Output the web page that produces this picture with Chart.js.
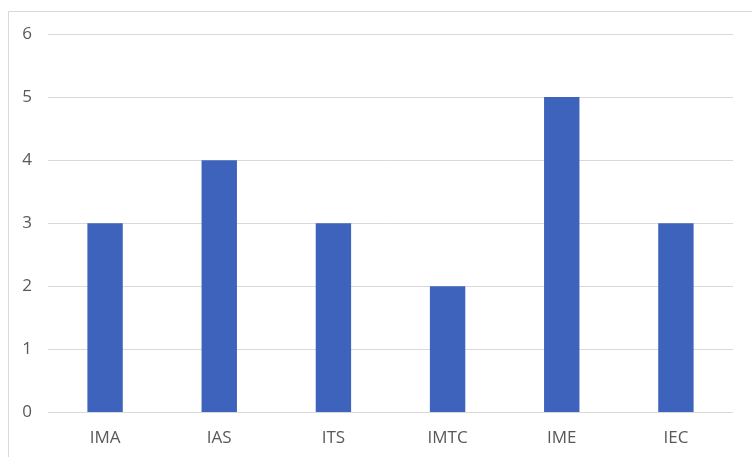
<!DOCTYPE html>
<html>
<head>
<meta charset="utf-8">
<script src="https://cdn.jsdelivr.net/npm/chart.js@4/dist/chart.umd.min.js"></script>
<style>
  html, body { margin: 0; padding: 0; background: #ffffff; }
  #wrap { width: 752px; height: 457px; position: relative; }
</style>
</head>
<body>
<div id="wrap"><canvas id="c"></canvas></div>
<script>
// Institutes and their counts
const categories = ['IMA', 'IAS', 'ITS', 'IMTC', 'IME', 'IEC'];
const counts = [3, 4, 3, 2, 5, 3];
const yTicks = [0, 1, 2, 3, 4, 5, 6];

// Light frame along the left and top edges of the chart box
const frame = {
  id: 'frame',
  beforeDraw(chart) {
    const ctx = chart.ctx;
    ctx.save();
    ctx.fillStyle = '#ffffff';
    ctx.fillRect(0, 0, chart.width, chart.height);
    ctx.strokeStyle = '#d9d9d9';
    ctx.lineWidth = 1;
    ctx.beginPath();
    ctx.moveTo(8.5, chart.height);
    ctx.lineTo(8.5, 11.5);
    ctx.lineTo(chart.width, 11.5);
    ctx.stroke();
    ctx.restore();
  }
};

new Chart(document.getElementById('c'), {
  type: 'bar',
  data: {
    labels: categories,
    datasets: [{
      data: counts,
      backgroundColor: '#3e63bc',
      borderWidth: 0,
      barPercentage: 0.31,
      categoryPercentage: 1.0
    }]
  },
  options: {
    responsive: true,
    maintainAspectRatio: false,
    animation: false,
    layout: { padding: { left: 0, right: 19, top: 34, bottom: 0 } },
    plugins: { legend: { display: false }, tooltip: { enabled: false } },
    scales: {
      x: {
        grid: { display: false, drawTicks: false },
        border: { display: false },
        ticks: { color: '#595959', font: { family: 'Open Sans', size: 17 }, padding: 15 },
        afterFit(scale) { scale.height = 44.5; }
      },
      y: {
        min: 0,
        max: 6,
        afterBuildTicks(scale) { scale.ticks = yTicks.map(v => ({ value: v })); },
        grid: { color: '#d9d9d9', drawTicks: false, lineWidth: 1 },
        border: { display: false },
        ticks: { color: '#595959', font: { family: 'Open Sans', size: 17 }, padding: 16 },
        afterFit(scale) { scale.width = 48; }
      }
    }
  },
  plugins: [frame]
});
</script>
</body>
</html>
